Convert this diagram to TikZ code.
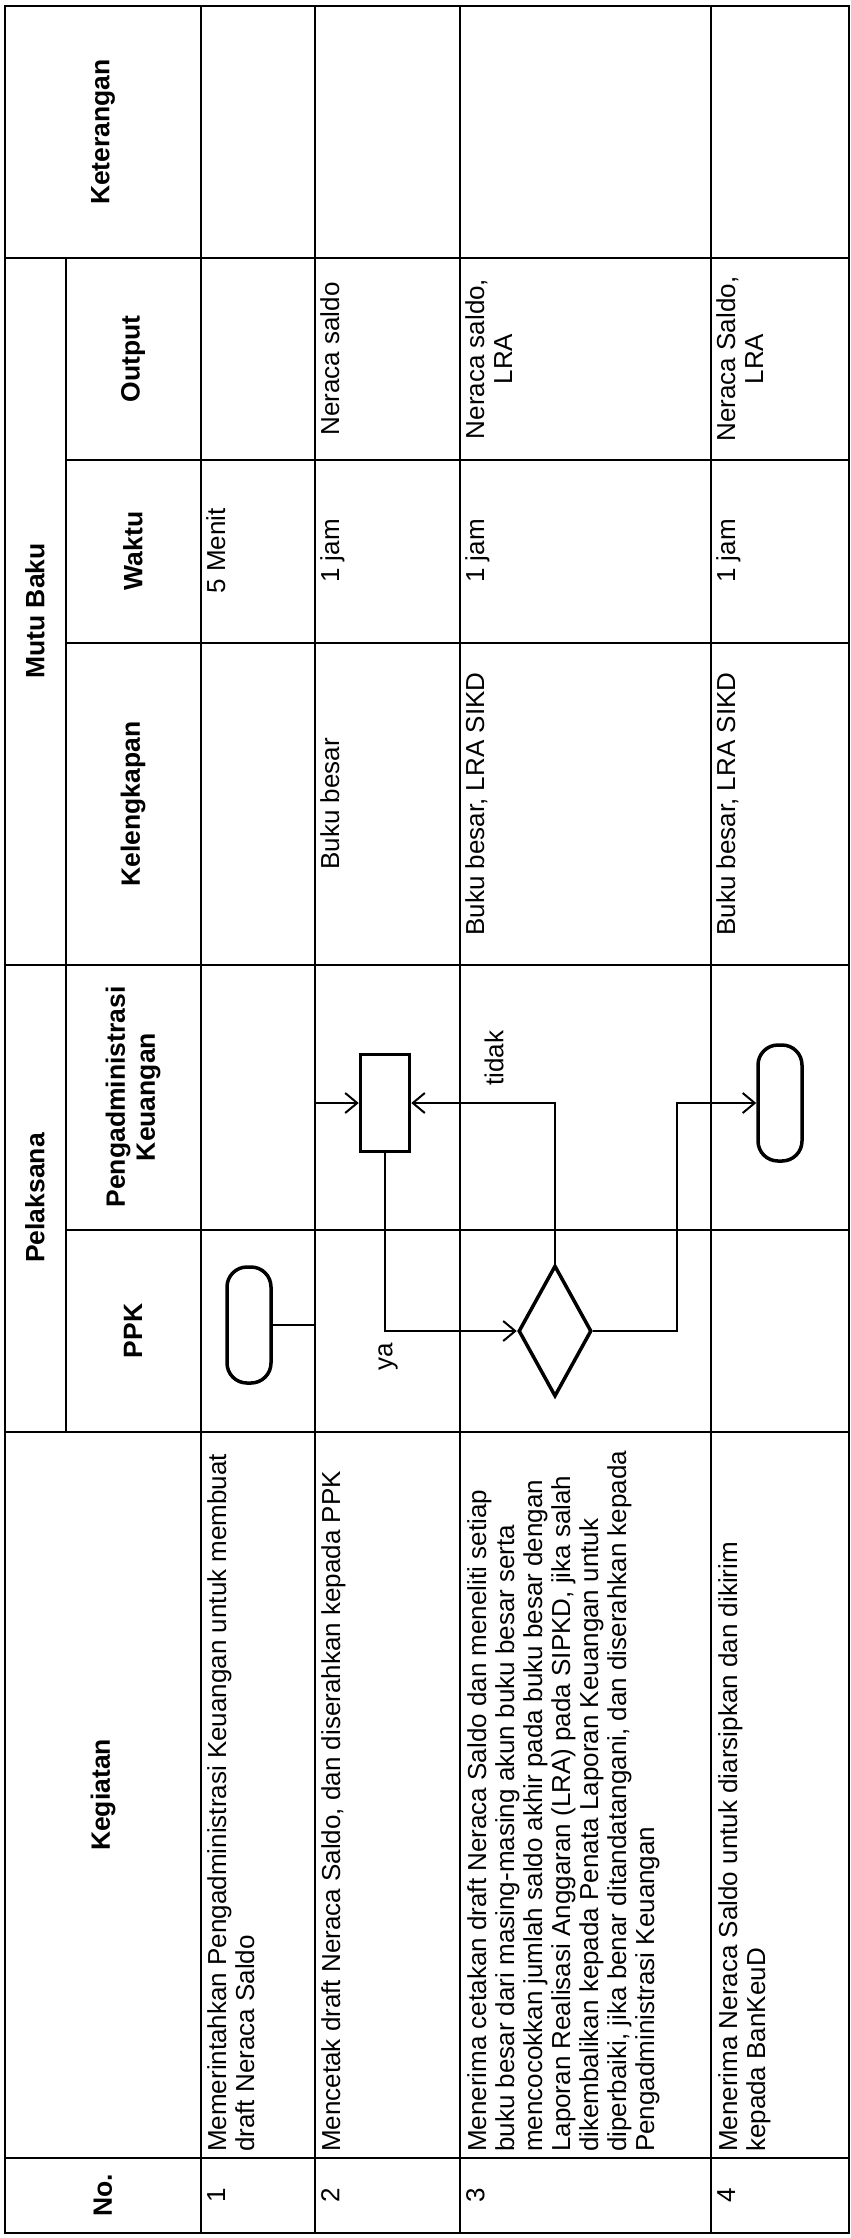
\documentclass[tikz,border=0pt]{standalone}
\usepackage{fontspec}
\setmainfont{Liberation Sans}
\usetikzlibrary{arrows.meta,shapes.geometric}

\begin{document}
\begin{tikzpicture}[
  x=1pt, y=-1pt,
  every node/.style={font=\fontsize{26}{28}\selectfont},
  >={Straight Barb[length=12pt,width=20pt]},
  grid/.style={line width=2pt},
  hd/.style={rotate=90,align=center,inner sep=0pt,
             font=\fontsize{26.5}{30}\selectfont\bfseries},
  txt/.style={rotate=90,align=left,inner sep=0pt,anchor=north west},
  val/.style={rotate=90,align=center,inner sep=0pt,anchor=north},
  term/.style={draw,line width=3.5pt,rounded corners=20pt,
               minimum width=44pt,minimum height=116pt},
  proc/.style={draw,line width=3.5pt,minimum width=49pt,minimum height=97pt},
  dec/.style={draw,diamond,line width=3.5pt,inner sep=0pt,
              minimum width=73pt,minimum height=131pt},
  flow/.style={->,line width=2pt}
]
\useasboundingbox (0,0) rectangle (851,2238);
\fill[white] (0,0) rectangle (851,2238);

% table frame
\draw[grid] (5,6) rectangle (849,2233);
\foreach \y in {258,965,1432,2158} \draw[grid] (5,\y) -- (849,\y);
\foreach \y in {460,643,1230} \draw[grid] (66,\y) -- (849,\y);
\foreach \x in {201,315,460,711} \draw[grid] (\x,6) -- (\x,2233);
\draw[grid] (66,258) -- (66,1432);

% headers
\node[hd] (hNo)  at (103,2195) {No.};
\node[hd] (hKeg) at (103,1795) {Kegiatan};
\node[hd] (hPel) at (35,1198)  {Pelaksana};
\node[hd] (hPPK) at (133,1331) {PPK};
\node[hd] (hPA)  at (133,1097) {Pengadministrasi\\Keuangan};
\node[hd] (hMB)  at (35,611)   {Mutu Baku};
\node[hd] (hKel) at (133,804)  {Kelengkapan};
\node[hd] (hWkt) at (133,551)  {Waktu};
\node[hd] (hOut) at (133,359)  {Output};
\node[hd] (hKet) at (103,132)  {Keterangan};

% rows
\node[val] (n1) at (207,2195) {1};
\node[val] (n2) at (321,2195) {2};
\node[val] (n3) at (466,2195) {3};
\node[val] (n4) at (717,2195) {4};

\node[txt] (k1) at (207,2152) {Memerintahkan Pengadministrasi Keuangan untuk membuat\\draft Neraca Saldo};
\node[txt] (k2) at (321,2152) {Mencetak draft Neraca Saldo, dan diserahkan kepada PPK};
\node[txt] (k3) at (467,2152) {Menerima cetakan draft Neraca Saldo dan meneliti setiap\\
  buku besar dari masing-masing akun buku besar serta\\
  mencocokkan jumlah saldo akhir pada buku besar dengan\\
  Laporan Realisasi Anggaran (LRA) pada SIPKD, jika salah\\
  dikembalikan kepada Penata Laporan Keuangan untuk\\
  diperbaiki, jika benar ditandatangani, dan diserahkan kepada\\
  Pengadministrasi Keuangan};
\node[txt] (k4) at (718,2152) {Menerima Neraca Saldo untuk diarsipkan dan dikirim\\kepada BanKeuD};

\node[val] (kl2) at (320,804) {Buku besar};
\node[val] (kl3) at (465,804) {Buku besar, LRA SIKD};
\node[val] (kl4) at (716,804) {Buku besar, LRA SIKD};

\node[val] (w1) at (206,551) {5 Menit};
\node[val] (w2) at (320,551) {1 jam};
\node[val] (w3) at (465,551) {1 jam};
\node[val] (w4) at (716,551) {1 jam};

\node[val] (o2) at (320,359) {Neraca saldo};
\node[val] (o3) at (465,359) {Neraca saldo,\\LRA};
\node[val] (o4) at (716,359) {Neraca Saldo,\\LRA};

% flow
\node[term] (mulai)   at (249,1325) {};
\node[proc] (cetak)   at (385,1103) {};
\node[dec]  (periksa) at (555,1331) {};
\node[term] (selesai) at (780,1103) {};

\coordinate (j1) at (315,1103);
\draw[flow] (mulai.east) -| (j1) -- (cetak.west);
\draw[flow] (cetak.south) |- (periksa.west);
\draw[flow] (periksa.north) |- (cetak.east);
\draw[flow] (periksa.east) -- ++(84,0) |- (selesai.west);

\node[rotate=90] (ya)    at (388,1357) {ya};
\node[rotate=90] (tidak) at (494,1058) {tidak};
\end{tikzpicture}
\end{document}
